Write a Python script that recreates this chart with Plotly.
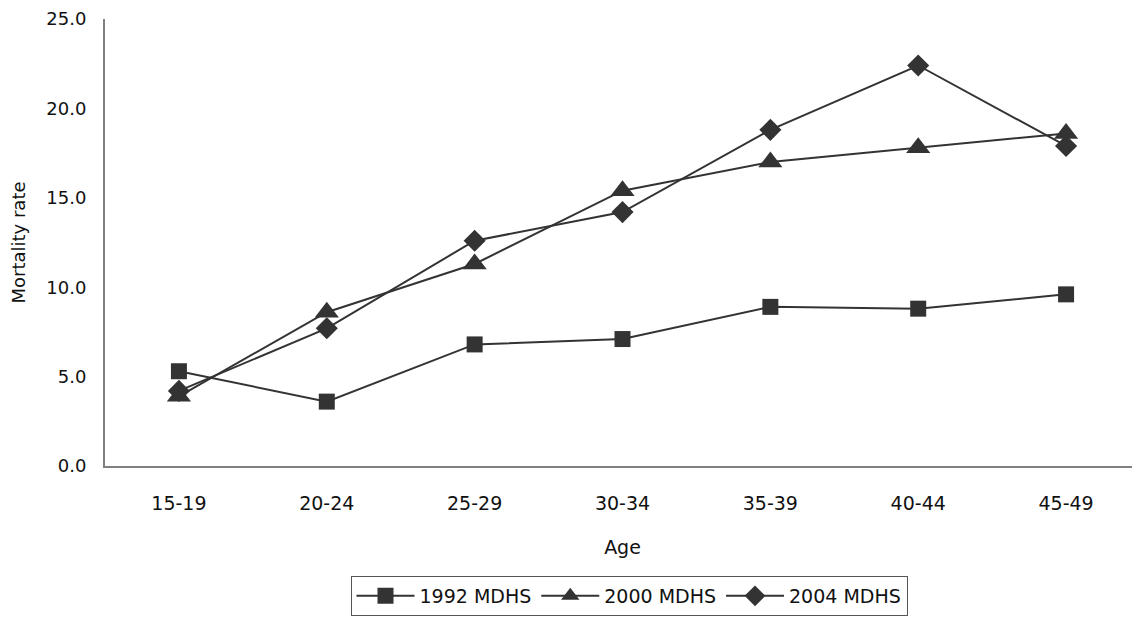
import plotly.graph_objects as go

ages = ["15-19", "20-24", "25-29", "30-34", "35-39", "40-44", "45-49"]
s1992 = [5.3, 3.6, 6.8, 7.1, 8.9, 8.8, 9.6]
s2000 = [3.9, 8.6, 11.3, 15.4, 17.0, 17.8, 18.6]
s2004 = [4.2, 7.7, 12.6, 14.2, 18.8, 22.4, 17.9]
names = ["1992 MDHS", "2000 MDHS", "2004 MDHS"]
symbols = ["square", "triangle-up", "diamond"]
sizes = [16, 21, 17]

C = "#333333"
FONT = "DejaVu Sans"
W, H = 1132, 621  # page has an 8px body margin

fig = go.Figure()
for name, vals, sym, sz in zip(names, [s1992, s2000, s2004], symbols, sizes):
    fig.add_trace(go.Scatter(
        x=ages, y=vals, name=name, mode="lines+markers",
        line=dict(color=C, width=2),
        marker=dict(symbol=sym, size=sz, color=C, line=dict(width=0)),
    ))

fig.update_layout(
    width=W, height=H,
    margin=dict(l=97, r=0, t=11, b=163, autoexpand=False),
    paper_bgcolor="white", plot_bgcolor="white",
    font=dict(family=FONT, size=19, color="#111111"),
    showlegend=True,
    legend=dict(
        orientation="h", xref="container", yref="container",
        x=621 / W, xanchor="center", y=1 - 568 / H, yanchor="top",
        bordercolor="#555555", borderwidth=1,
        font=dict(size=19, family=FONT, color="#111111"),
        itemwidth=58, tracegroupgap=0,
    ),
    xaxis=dict(
        showline=True, linecolor="#808080", linewidth=2,
        showgrid=False, ticks="", ticklabelstandoff=19, automargin=False,
        title=dict(text="Age", font=dict(size=19), standoff=28),
        range=[-0.5, 6.5],
    ),
    yaxis=dict(
        showline=True, linecolor="#808080", linewidth=2,
        showgrid=False, ticks="", range=[0, 25], dtick=5, tickformat=".1f",
        ticklabelstandoff=13, zeroline=False, automargin=False,
        tickfont=dict(size=18),
        title=dict(text="Mortality rate", font=dict(size=18), standoff=19),
    ),
)

fig.write_html("out.html")
